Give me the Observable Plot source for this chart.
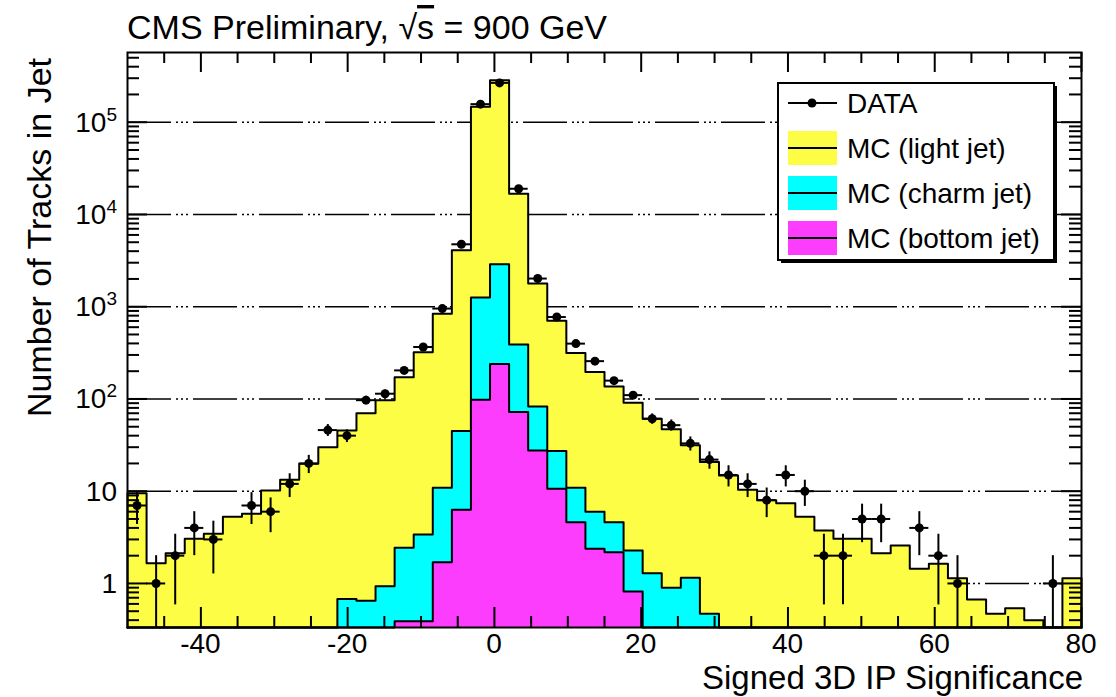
<!DOCTYPE html>
<html><head><meta charset="utf-8">
<script src="https://cdn.jsdelivr.net/npm/d3@7"></script>
<script src="https://cdn.jsdelivr.net/npm/@observablehq/plot@0.6"></script>
<style>body{margin:0;background:#fff} svg{display:block}</style>
</head><body><div id="chart"></div>
<script>
// ---- data ----
const xMin = -50, xMax = 80, nBins = 50;
const yMin = 0.333, yMax = 5.7e5;

const dataCounts = [7,1,2,4,3,0,7,6,12,20, 46,40,97,114,204,366,955,4750,157000,267000,
  19000,2020,773,398,257,158,110,61,52,33, 22,15,12,8,15,10,2,2,5,5, 0,4,2,1,0,0,0,0,1,0];

const mcLight = [9.5,1.66,2.13,3.05,3.46,5.3,5.7,10.2,13.3,19.8,
  30,44.9,69.4,96,170,317,829,4055,145700,282100,
  16400,1697,678,304,190,132,88.7,59.7,46.1,30.3,
  20.2,14.8,10.4,8.0,7.4,5.3,3.76,3.05,3.05,2.13,
  2.58,1.44,1.64,1.14,0.67,0.47,0.54,0.40,0,1.14];

const mcCharm = [0,0,0,0,0,0,0,0,0,0,
  0,0.68,0.65,0.93,2.05,3.01,9.2,38.6,1162,2640,
  318,55.4,16.6,6.3,3.62,2.42,1.46,1.29,0.9,1.15,
  0.47,0,0,0,0,0,0,0,0,0, 0,0,0,0,0,0,0,0,0,0];

const mcBottom = [0,0,0,0,0,0,0,0,0,0,
  0,0,0,0,0.39,0.39,1.7,6.3,98,240,
  72,27.6,10.6,4.6,2.38,2.18,0.82,0,0,0,
  0,0,0,0,0,0,0,0,0,0, 0,0,0,0,0,0,0,0,0,0];

const xMajorTicks = [-40,-20,0,20,40,60,80];
const xTickLabels = ["-40","-20","0","20","40","60","80"];
const yDecades = [1,10,100,1000,10000,100000];
const yTickBase = ["1","10","10","10","10","10"];
const yTickExp  = ["","","2","3","4","5"];
const legendLabels = ["DATA","MC (light jet)","MC (charm jet)","MC (bottom jet)"];
const colLight = "#fdfd45", colCharm = "#00ffff", colBottom = "#fd3dfd";

// ---- derived ----
const bw = (xMax - xMin) / nBins;
const edges = d3.range(nBins + 1).map(i => xMin + i * bw);
const bTop = mcBottom.slice();
const cbTop = mcCharm.map((v, i) => v + mcBottom[i]);
const allTop = mcLight.map((v, i) => v + cbTop[i]);

function stepPoints(vals) {
  const pts = [{x: xMin, y: yMin}];
  vals.forEach((v, i) => {
    const yy = Math.max(v, yMin);
    pts.push({x: edges[i], y: yy}, {x: edges[i + 1], y: yy});
  });
  pts.push({x: xMax, y: yMin});
  return pts;
}
const dataPts = dataCounts.map((n, i) => ({
  n, x0: edges[i], x1: edges[i + 1], xc: (edges[i] + edges[i + 1]) / 2,
  lo: Math.max(n - Math.sqrt(n), yMin), hi: n + Math.sqrt(n)
})).filter(d => d.n > 0);

const xMinor = d3.range(xMin + 5, xMax, 5).filter(v => !xMajorTicks.includes(v));
const yMinor = [];
for (let e = -1; e <= 5; e++) for (let m = 2; m <= 9; m++) {
  const v = m * Math.pow(10, e);
  if (v > yMin && v < yMax) yMinor.push(v);
}

const W = 1116, H = 697, mL = 127, mR = 35, mT = 52, mB = 70;
const fw = W - mL - mR, fh = H - mT - mB;

function hist(vals, fill) {
  const pts = stepPoints(vals);
  return [
    Plot.areaY(pts, {x: "x", y1: yMin, y2: "y", fill}),
    Plot.lineY(pts, {x: "x", y: "y", stroke: "black", strokeWidth: 2})
  ];
}

const plot = Plot.plot({
  width: W, height: H, marginLeft: mL, marginRight: mR, marginTop: mT, marginBottom: mB,
  x: {domain: [xMin, xMax], axis: null},
  y: {type: "log", domain: [yMin, yMax], axis: null},
  style: {fontFamily: "'Liberation Sans', Arial, sans-serif", background: "white"},
  marks: [
    Plot.ruleY(yDecades, {y: d => d, stroke: "black", strokeWidth: 1.4, strokeDasharray: "44,5,2,3,2,3,2,5"}),
    ...hist(allTop, colLight),
    ...hist(cbTop, colCharm),
    ...hist(bTop, colBottom),
    // ticks bottom/top
    Plot.tickX(xMajorTicks, {x: d => d, insetTop: fh - 20, stroke: "black", strokeWidth: 2}),
    Plot.tickX(xMinor, {x: d => d, insetTop: fh - 11, stroke: "black", strokeWidth: 2}),
    Plot.tickX(xMajorTicks, {x: d => d, insetBottom: fh - 20, stroke: "black", strokeWidth: 2}),
    Plot.tickX(xMinor, {x: d => d, insetBottom: fh - 11, stroke: "black", strokeWidth: 2}),
    // ticks left/right
    Plot.tickY(yDecades, {y: d => d, insetRight: fw - 20, stroke: "black", strokeWidth: 2}),
    Plot.tickY(yMinor, {y: d => d, insetRight: fw - 12, stroke: "black", strokeWidth: 2}),
    Plot.tickY(yDecades, {y: d => d, insetLeft: fw - 20, stroke: "black", strokeWidth: 2}),
    Plot.tickY(yMinor, {y: d => d, insetLeft: fw - 12, stroke: "black", strokeWidth: 2}),
    Plot.frame({stroke: "black", strokeWidth: 2}),
    // data
    Plot.ruleX(dataPts, {x: "xc", y1: "lo", y2: "hi", stroke: "black", strokeWidth: 2}),
    Plot.ruleY(dataPts, {y: "n", x1: "x0", x2: "x1", stroke: "black", strokeWidth: 2}),
    Plot.dot(dataPts, {x: "xc", y: "n", r: 4.5, fill: "black"})
  ]
});
document.getElementById("chart").appendChild(plot);

// ---- text and legend ----
const svg = d3.select(plot);
const xs = plot.scale("x"), ys = plot.scale("y");
const font = "'Liberation Sans', Arial, sans-serif";
const g = svg.append("g").attr("font-family", font).attr("fill", "black").attr("text-anchor", "start");

xMajorTicks.forEach((v, i) => {
  g.append("text").attr("x", xs.apply(v)).attr("y", 653).attr("text-anchor", "middle")
    .attr("font-size", 28).text(xTickLabels[i]);
});
yDecades.forEach((v, i) => {
  const t = g.append("text").attr("x", 117).attr("y", ys.apply(v) + 10)
    .attr("text-anchor", "end").attr("font-size", 28).text(yTickBase[i]);
  if (yTickExp[i]) t.append("tspan").attr("dy", -11).attr("font-size", 19).text(yTickExp[i]);
});

// title
const tt = g.append("text").attr("x", 127).attr("y", 39).attr("font-size", 34).attr("text-anchor", "start");
tt.append("tspan").text("CMS Preliminary, √");
tt.append("tspan").style("text-decoration", "overline").text("s");
tt.append("tspan").text(" = 900 GeV");

// axis titles
g.append("text").attr("x", 1083).attr("y", 689).attr("text-anchor", "end")
  .attr("font-size", 33).text("Signed 3D IP Significance");
g.append("text").attr("transform", "translate(51,58) rotate(-90)").attr("text-anchor", "end")
  .attr("font-size", 34).text("Number of Tracks in Jet");

// legend
const lg = svg.append("g").attr("font-family", font).attr("text-anchor", "start");
lg.append("rect").attr("x", 781).attr("y", 86).attr("width", 276).attr("height", 177).attr("fill", "black");
lg.append("rect").attr("x", 778).attr("y", 83).attr("width", 276).attr("height", 177)
  .attr("fill", "white").attr("stroke", "black").attr("stroke-width", 2);
const ly = [103, 148, 193, 238];
const swCols = [null, colLight, colCharm, colBottom];
legendLabels.forEach((lab, i) => {
  if (i === 0) {
    lg.append("line").attr("x1", 788).attr("x2", 837).attr("y1", ly[i]).attr("y2", ly[i])
      .attr("stroke", "black").attr("stroke-width", 2);
    lg.append("circle").attr("cx", 812).attr("cy", ly[i]).attr("r", 4.5).attr("fill", "black");
  } else {
    lg.append("rect").attr("x", 788).attr("y", ly[i] - 17).attr("width", 49).attr("height", 34)
      .attr("fill", swCols[i]);
    lg.append("line").attr("x1", 788).attr("x2", 837).attr("y1", ly[i]).attr("y2", ly[i])
      .attr("stroke", "black").attr("stroke-width", 2);
  }
  lg.append("text").attr("x", 847).attr("y", ly[i] + 10).attr("font-size", 28)
    .attr("text-anchor", "start").text(lab);
});
</script></body></html>
